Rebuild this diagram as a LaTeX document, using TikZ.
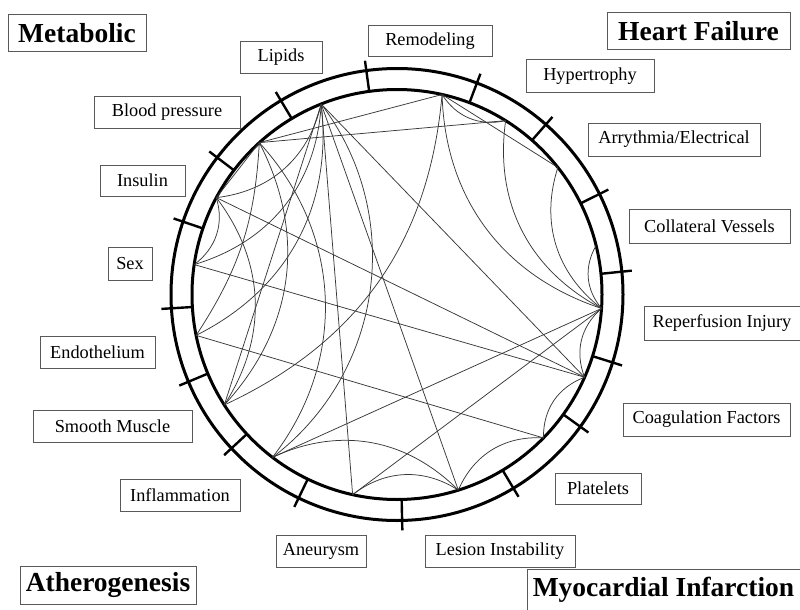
\documentclass[tikz,border=0pt]{standalone}
\usepackage{fontspec}
\setmainfont{Liberation Serif}
\begin{document}
\begin{tikzpicture}[x=1pt,y=1pt,
  ring/.style={line width=3pt},
  tickst/.style={line width=2.4pt},
  ed/.style={line width=0.75pt, draw=black!78},
  cv/.style={ed, bend left=35},
  lab/.style={draw=black!65, line width=1pt, font=\fontsize{18.3}{21}\selectfont, inner sep=0pt},
  cat/.style={draw=black!65, line width=1pt, font=\fontsize{27.5}{30}\selectfont\bfseries, inner sep=0pt}]
\useasboundingbox (0,0) rectangle (800,-610);
\coordinate (C) at (397,-294.5);
\begin{scope}[shift={(C)}]
  \draw[ring] (0,0) circle[radius=226];
  \draw[ring] (0,0) circle[radius=205];
  \foreach \a in {97.8,69.3,48.8,26.4,5.8,-17.5,-35.8,-59,-88.7,-115.8,-137.1,-157.3,-176.5,161.2,142.7,120.9}
    \draw[tickst] (\a:205) -- (\a:236);
  \coordinate (A) at (111.7:205);
  \coordinate (B) at (77.3:205);
  \coordinate (Cc) at (58:205);
  \coordinate (D) at (38.3:205);
  \coordinate (X) at (13.8:205);
  \coordinate (E) at (-3.9:205);
  \coordinate (F) at (-23.8:205);
  \coordinate (G) at (-44.4:205);
  \coordinate (H) at (-72.6:205);
  \coordinate (I) at (-102.5:205);
  \coordinate (J) at (-127.4:205);
  \coordinate (K) at (-147.4:205);
  \coordinate (L) at (-168.5:205);
  \coordinate (M) at (171.6:205);
  \coordinate (N) at (151.8:205);
  \coordinate (O) at (132.2:205);
\end{scope}
% curved links
\draw[cv] (Cc) to (B);
\draw[cv] (E) to (B);
\draw[cv] (E) to (Cc);
\draw[cv] (E) to (D);
\draw[cv] (E) to (X);
\draw[cv] (F) to (E);
\draw[cv] (G) to (F);
\draw[cv] (H) to (G);
\draw[cv] (I) to (H);
\draw[cv] (J) to (H);
\draw[cv] (A) to (N);
\draw[cv] (A) to (M);
\draw[cv] (A) to (L);
\draw[ed] (A) to[bend left=45] (J);
\draw[ed] (B) to[bend left=30] (K);
\draw[cv] (N) to (M);
\draw[cv] (N) to (K);
\draw[cv] (O) to (K);
\draw[ed] (O) to[bend left=40] (J);
\draw[ed] (O) to[bend left=15] (L);
% straight links
\draw[ed] (O) -- (B);
\draw[ed] (O) -- (Cc);
\draw[ed] (N) -- (O);
\draw[ed] (A) -- (F);
\draw[ed] (B) -- (D);
\draw[ed] (N) -- (F);
\draw[ed] (M) -- (F);
\draw[ed] (E) -- (J);
\draw[ed] (E) -- (I);
\draw[ed] (L) -- (G);
\draw[ed] (A) -- (H);
\draw[ed] (A) -- (I);
\draw[ed] (A) -- (K);
% labels
\node[cat, minimum width=138pt, minimum height=37pt] (tMet) at (77,-33.5) {Metabolic};
\node[cat, minimum width=183pt, minimum height=37pt] (tHF) at (698.5,-31.5) {Heart Failure};
\node[cat, minimum width=176pt, minimum height=38pt] (tAth) at (108,-585) {Atherogenesis};
\node[cat, minimum width=273pt, minimum height=41pt] (tMI) at (663.5,-589.5) {Myocardial Infarction};
\node[lab, minimum width=82pt, minimum height=31pt] (tLip) at (281,-57.5) {Lipids};
\node[lab, minimum width=124pt, minimum height=31pt] (tRem) at (430,-41.5) {Remodeling};
\node[lab, minimum width=128pt, minimum height=32pt] (tHyp) at (590,-76) {Hypertrophy};
\node[lab, minimum width=146pt, minimum height=32pt] (tBP) at (167,-112) {Blood pressure};
\node[lab, minimum width=172pt, minimum height=33pt] (tArr) at (674,-139.5) {Arrythmia/Electrical};
\node[lab, minimum width=85pt, minimum height=31pt] (tIns) at (142.5,-180.5) {Insulin};
\node[lab, minimum width=161pt, minimum height=34pt] (tCol) at (709.5,-226) {Collateral Vessels};
\node[lab, minimum width=44pt, minimum height=33pt] (tSex) at (130,-263.5) {Sex};
\node[lab, minimum width=156pt, minimum height=34pt] (tRep) at (722,-323) {Reperfusion Injury};
\node[lab, minimum width=115pt, minimum height=32pt] (tEnd) at (97.5,-352) {Endothelium};
\node[lab, minimum width=167pt, minimum height=33pt] (tCoa) at (706.5,-419.5) {Coagulation Factors};
\node[lab, minimum width=159pt, minimum height=32pt] (tSM) at (112.5,-426) {Smooth Muscle};
\node[lab, minimum width=86pt, minimum height=31pt] (tPla) at (598,-488.5) {Platelets};
\node[lab, minimum width=120pt, minimum height=32pt] (tInf) at (180,-495) {Inflammation};
\node[lab, minimum width=90pt, minimum height=32pt] (tAne) at (321,-551) {Aneurysm};
\node[lab, minimum width=150pt, minimum height=32pt] (tLes) at (500,-551) {Lesion Instability};
\end{tikzpicture}
\end{document}
